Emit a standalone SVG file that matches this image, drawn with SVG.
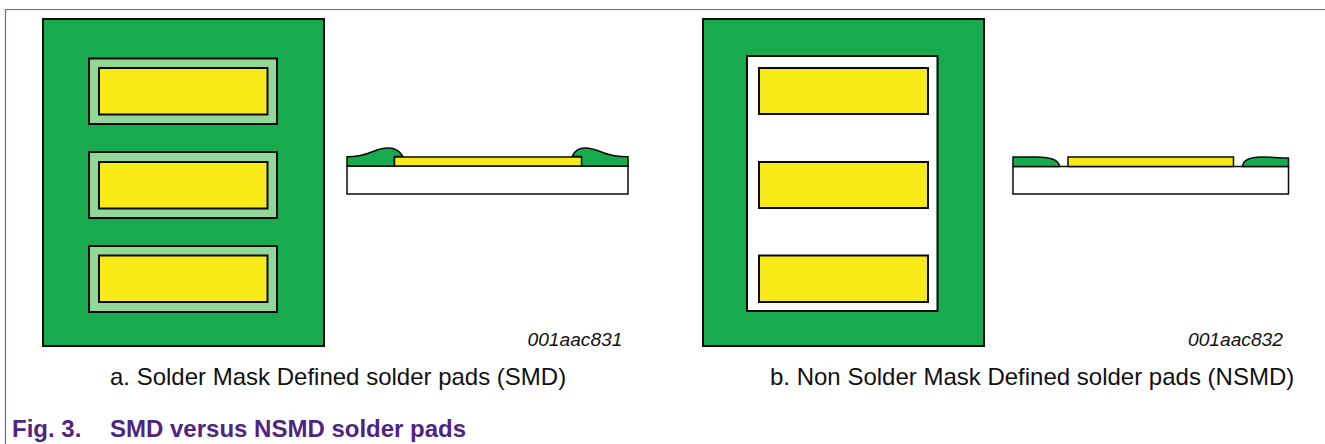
<svg xmlns="http://www.w3.org/2000/svg" width="1325" height="444" viewBox="0 0 1325 444">
<style>
.k{stroke:#0a0a0a;stroke-width:2}
.g{fill:#17aa4f}
.l{fill:#93d896}
.y{fill:#f7ea17}
.w{fill:#fff}
.t{stroke:#0a0a0a;stroke-width:1.500}
text{font-family:"Liberation Sans",Arial,sans-serif}
.c{font-size:24px;fill:#111}
.n{font-size:19.200px;font-style:italic;fill:#111}
.f{font-size:24px;font-weight:bold;fill:#4f2582}
</style>
<rect width="1325" height="444" fill="#fff"/>
<g id="frame"><path d="M1325 9.500H5.500V444" fill="none" stroke="#7b5ea7" stroke-width="1.200"/></g>
<g id="smd-top">
<rect class="g k" x="43" y="19" width="281" height="327"/>
<rect class="l k" x="89" y="58.500" width="188" height="65.500"/><rect class="y k" x="99" y="68" width="168.500" height="46.500"/>
<rect class="l k" x="89" y="152" width="188" height="66"/><rect class="y k" x="99" y="162" width="168.500" height="46.500"/>
<rect class="l k" x="89" y="246" width="188" height="66"/><rect class="y k" x="99" y="255.500" width="168.500" height="46.500"/>
</g>
<g id="smd-section">
<rect class="w t" x="347" y="166" width="281" height="28"/>
<path class="g t" d="M347 166V156.800C358 156.800 366 154.500 373 151.500C380 148.500 384 148 388 148C394 148 400 151 403 156.500H394.500V166Z"/>
<path class="g t" d="M628 166V156.800C616 156.800 607 154.500 600 151.500C593 148.500 589 148 585 148C579 148 574.500 151 572 156.500H581V166Z"/>
<rect class="y t" x="394.500" y="157" width="187" height="9"/>
</g>
<g id="nsmd-top">
<rect class="g k" x="703" y="19" width="281" height="327"/>
<rect class="w k" x="747" y="56" width="190.500" height="255"/>
<rect class="y k" x="759" y="68" width="169" height="46"/>
<rect class="y k" x="759" y="162" width="169" height="46"/>
<rect class="y k" x="759" y="255.500" width="169" height="46.500"/>
</g>
<g id="nsmd-section">
<rect class="w t" x="1013" y="166.500" width="275.500" height="27.500"/>
<path class="g t" d="M1013 166.500V157H1036C1050 157 1059 159.500 1059.500 166.500Z"/>
<path class="g t" d="M1288.500 166.500V158C1278 158 1272 157 1262 157C1251 157 1243 160 1242.500 166.500Z"/>
<rect class="y t" x="1068" y="157" width="165.500" height="9.500"/>
</g>
<text class="n" x="527.500" y="345.700">001aac831</text>
<text class="n" x="1188" y="345.700">001aac832</text>
<text class="c" x="110" y="385">a. Solder Mask Defined solder pads (SMD)</text>
<text class="c" x="770" y="385">b. Non Solder Mask Defined solder pads (NSMD)</text>
<text class="f" x="12" y="437">Fig. 3.</text>
<text class="f" x="110" y="437">SMD versus NSMD solder pads</text>
</svg>
